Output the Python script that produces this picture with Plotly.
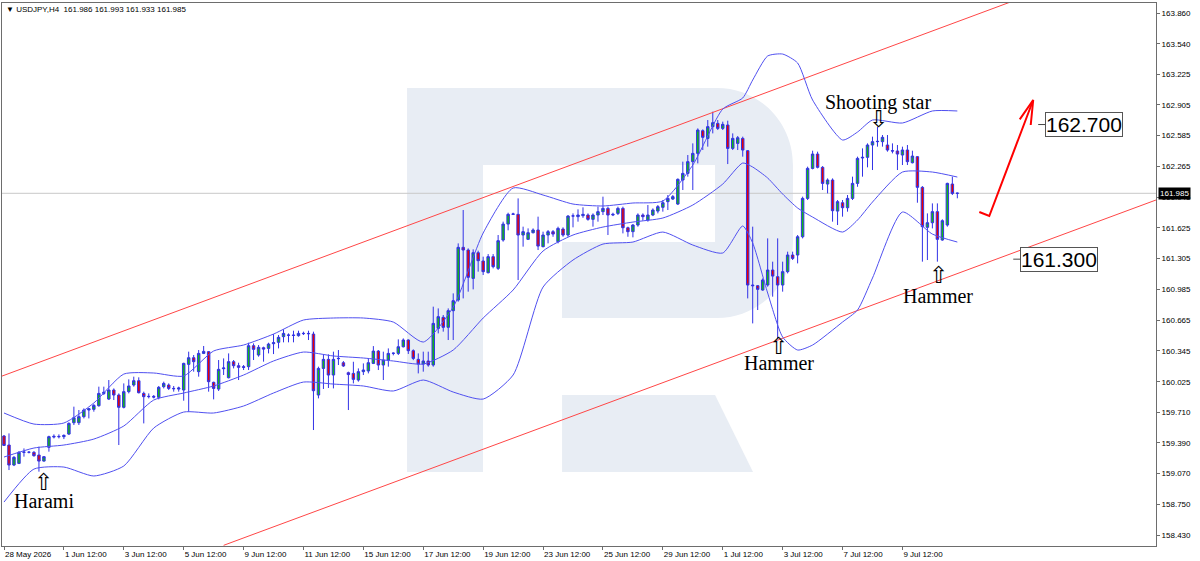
import plotly.graph_objects as go

# USDJPY H4 candles (bar index = position on the time axis)
opens = [
    159.461, 159.367, 159.159, 159.176, 159.291, 159.292, 159.291, 159.263, 159.200, 159.343,
    159.450, 159.457, 159.454, 159.481, 159.599, 159.599, 159.662, 159.731, 159.738, 159.776,
    159.904, 159.845, 159.939, 159.887, 159.759, 159.922, 159.991, 160.036, 159.904, 159.870,
    159.873, 159.863, 159.974, 159.991, 159.956, 159.949, 159.939, 160.206, 160.275, 160.130,
    160.320, 160.338, 160.019, 159.949, 160.161, 160.067, 160.234, 160.192, 160.182, 160.182,
    160.400, 160.303, 160.379, 160.372, 160.421, 160.435, 160.494, 160.511, 160.511, 160.504,
    160.525, 160.528, 160.521, 159.887, 160.164, 160.258, 160.095, 160.265, 160.223, 160.119,
    160.112, 160.043, 160.130, 160.137, 160.216, 160.344, 160.199, 160.251, 160.320, 160.320,
    160.389, 160.459, 160.348, 160.258, 160.209, 160.241, 160.199, 160.580, 160.695, 160.591,
    160.764, 160.875, 161.423, 161.395, 161.100, 161.367, 161.281, 161.159, 161.326, 161.204,
    161.499, 161.665, 161.766, 161.766, 161.551, 161.506, 161.575, 161.603, 161.430, 161.551,
    161.586, 161.482, 161.613, 161.551, 161.748, 161.742, 161.752, 161.759, 161.714, 161.759,
    161.794, 161.828, 161.759, 161.776, 161.828, 161.627, 161.586, 161.655, 161.759, 161.707,
    161.759, 161.800, 161.839, 161.898, 161.925, 161.873, 162.123, 162.192, 162.314, 162.400,
    162.636, 162.556, 162.678, 162.712, 162.660, 162.695, 162.452, 162.504, 162.556, 162.428,
    161.031, 161.024, 160.979, 161.031, 161.187, 161.118, 161.031, 161.170, 161.343, 161.343,
    161.533, 161.932, 162.244, 162.393, 162.255, 162.081, 162.123, 161.800, 161.887, 161.835,
    161.932, 162.088, 162.352, 162.359, 162.487, 162.522, 162.522, 162.487, 162.428, 162.425,
    162.383, 162.435, 162.303, 162.366, 162.047, 161.631, 161.679, 161.794, 161.499, 161.655,
    162.081, 161.986,
]
highs = [
    159.471, 159.488, 159.252, 159.304, 159.332, 159.304, 159.304, 159.350, 159.252, 159.464,
    159.478, 159.478, 159.478, 159.603, 159.766, 159.731, 159.748, 159.748, 159.793, 159.974,
    159.974, 160.043, 159.956, 159.904, 160.008, 160.050, 160.078, 160.071, 159.922, 159.904,
    159.887, 159.981, 160.026, 160.008, 159.981, 159.974, 160.223, 160.338, 160.303, 160.355,
    160.397, 160.345, 160.026, 160.251, 160.268, 160.320, 160.251, 160.223, 160.199, 160.431,
    160.424, 160.407, 160.390, 160.431, 160.521, 160.511, 160.570, 160.528, 160.556, 160.556,
    160.546, 160.556, 160.546, 160.182, 160.310, 160.310, 160.338, 160.355, 160.240, 160.130,
    160.233, 160.164, 160.216, 160.268, 160.396, 160.355, 160.338, 160.372, 160.330, 160.466,
    160.476, 160.466, 160.362, 160.320, 160.338, 160.338, 160.806, 160.788, 160.719, 160.788,
    160.944, 161.464, 161.811, 161.412, 161.402, 161.388, 161.326, 161.353, 161.353, 161.551,
    161.690, 161.783, 161.783, 161.932, 161.638, 161.620, 161.620, 161.742, 161.586, 161.603,
    161.603, 161.638, 161.631, 161.759, 161.776, 161.818, 161.839, 161.776, 161.776, 161.846,
    161.950, 161.846, 161.783, 161.846, 161.846, 161.638, 161.665, 161.776, 161.776, 161.863,
    161.828, 161.863, 161.915, 161.967, 161.967, 162.140, 162.314, 162.383, 162.504, 162.660,
    162.650, 162.747, 162.834, 162.747, 162.730, 162.740, 162.608, 162.581, 162.574, 162.435,
    161.638, 161.031, 161.100, 161.516, 161.274, 161.516, 161.274, 161.378, 161.378, 161.551,
    161.950, 162.262, 162.428, 162.418, 162.268, 162.140, 162.140, 161.915, 161.915, 161.967,
    162.158, 162.366, 162.452, 162.504, 162.574, 162.678, 162.591, 162.591, 162.504, 162.487,
    162.470, 162.487, 162.428, 162.372, 162.060, 161.776, 161.880, 161.880, 161.714, 162.095,
    162.158, 161.993,
]
lows = [
    159.357, 159.107, 159.148, 159.169, 159.246, 159.280, 159.246, 159.090, 159.194, 159.298,
    159.436, 159.436, 159.429, 159.471, 159.575, 159.575, 159.644, 159.644, 159.714, 159.766,
    159.887, 159.835, 159.835, 159.367, 159.748, 159.904, 159.974, 159.904, 159.592, 159.852,
    159.852, 159.842, 159.956, 159.939, 159.922, 159.922, 159.828, 159.714, 160.130, 160.078,
    160.313, 159.922, 159.842, 159.929, 160.095, 160.060, 160.164, 160.043, 160.147, 160.147,
    160.251, 160.286, 160.234, 160.320, 160.313, 160.372, 160.435, 160.435, 160.435, 160.494,
    160.511, 160.459, 159.523, 159.852, 159.950, 159.960, 159.956, 160.199, 160.180, 159.731,
    160.008, 160.026, 160.095, 160.112, 160.209, 160.147, 160.043, 160.182, 160.300, 160.303,
    160.382, 160.314, 160.250, 160.112, 160.130, 160.182, 160.182, 160.528, 160.546, 160.459,
    160.459, 160.858, 160.892, 160.962, 160.986, 161.170, 161.135, 161.152, 161.204, 161.187,
    161.482, 161.600, 161.759, 161.083, 161.430, 161.499, 161.568, 161.395, 161.423, 161.464,
    161.533, 161.464, 161.533, 161.533, 161.631, 161.690, 161.730, 161.700, 161.638, 161.690,
    161.759, 161.551, 161.748, 161.759, 161.568, 161.533, 161.527, 161.638, 161.700, 161.690,
    161.748, 161.776, 161.794, 161.811, 161.915, 161.863, 162.019, 162.158, 162.019, 162.296,
    162.435, 162.470, 162.608, 162.643, 162.643, 162.289, 162.435, 162.435, 162.366, 160.892,
    160.632, 160.771, 160.972, 161.014, 160.910, 160.476, 160.962, 161.152, 161.291, 161.256,
    161.516, 161.915, 162.234, 162.244, 162.019, 161.984, 161.690, 161.655, 161.742, 161.794,
    161.915, 162.053, 162.158, 162.255, 162.227, 162.470, 162.470, 162.418, 162.400, 162.227,
    162.279, 162.279, 162.296, 161.887, 161.274, 161.291, 161.620, 161.274, 161.492, 161.638,
    161.967, 161.933,
]
closes = [
    159.363, 159.159, 159.239, 159.291, 159.294, 159.292, 159.256, 159.200, 159.246, 159.454,
    159.457, 159.454, 159.467, 159.592, 159.651, 159.662, 159.731, 159.745, 159.779, 159.904,
    159.915, 159.939, 159.887, 159.759, 159.922, 159.981, 160.036, 159.911, 159.870, 159.873,
    159.866, 159.967, 160.008, 159.956, 159.953, 159.960, 160.216, 160.275, 160.234, 160.320,
    160.341, 160.026, 159.956, 160.154, 160.168, 160.234, 160.192, 160.175, 160.175, 160.400,
    160.362, 160.383, 160.365, 160.417, 160.431, 160.487, 160.528, 160.509, 160.507, 160.528,
    160.528, 160.525, 159.932, 160.164, 160.258, 160.095, 160.258, 160.268, 160.189, 160.100,
    160.050, 160.130, 160.147, 160.223, 160.344, 160.199, 160.251, 160.320, 160.322, 160.389,
    160.459, 160.348, 160.268, 160.209, 160.241, 160.199, 160.632, 160.702, 160.591, 160.764,
    160.868, 161.423, 161.395, 161.111, 161.367, 161.284, 161.170, 161.326, 161.222, 161.492,
    161.665, 161.766, 161.770, 161.551, 161.586, 161.575, 161.603, 161.436, 161.551, 161.586,
    161.561, 161.620, 161.551, 161.748, 161.750, 161.759, 161.766, 161.714, 161.759, 161.794,
    161.828, 161.759, 161.766, 161.828, 161.627, 161.586, 161.655, 161.759, 161.742, 161.759,
    161.811, 161.846, 161.887, 161.932, 161.950, 162.130, 162.192, 162.314, 162.400, 162.643,
    162.567, 162.678, 162.719, 162.660, 162.702, 162.452, 162.556, 162.563, 162.435, 161.031,
    161.024, 160.986, 161.083, 161.187, 161.124, 161.031, 161.170, 161.343, 161.308, 161.533,
    161.932, 162.244, 162.393, 162.255, 162.088, 162.123, 161.804, 161.898, 161.835, 161.932,
    162.088, 162.348, 162.359, 162.487, 162.522, 162.525, 162.567, 162.435, 162.425, 162.393,
    162.435, 162.314, 162.372, 162.047, 161.638, 161.679, 161.794, 161.506, 161.700, 162.088,
    161.984, 161.985,
]

# Bollinger Bands (20), sampled along the chart
band_bars = [0, 6, 12, 18, 24, 30, 36, 42, 48, 54, 60, 66, 72, 78, 84, 90, 96, 102, 108, 114,
             120, 126, 132, 138, 144, 148, 150, 153, 156, 159, 162, 168, 171, 174, 180, 186, 191]
band_upper = [159.700, 159.585, 159.596, 159.804, 160.105, 160.116, 160.085, 160.345, 160.407, 160.521,
              160.667, 160.688, 160.688, 160.646, 160.438, 160.802, 161.572, 162.040, 161.967, 161.873,
              161.853, 161.884, 161.905, 162.279, 162.861, 162.976, 163.163, 163.413, 163.433, 163.340,
              162.955, 162.539, 162.622, 162.747, 162.716, 162.841, 162.841]
band_middle = [159.242, 159.336, 159.367, 159.429, 159.565, 159.835, 159.908, 159.981, 160.095, 160.241,
               160.334, 160.293, 160.272, 160.241, 160.209, 160.355, 160.688, 160.979, 161.385, 161.551,
               161.634, 161.686, 161.728, 161.863, 162.081, 162.300, 162.258, 162.144, 161.977, 161.832,
               161.738, 161.582, 161.707, 161.894, 162.206, 162.206, 162.154]
band_lower = [158.774, 159.117, 159.138, 159.045, 159.149, 159.544, 159.710, 159.700, 159.773, 159.908,
              160.022, 160.001, 159.981, 159.929, 160.043, 159.918, 159.845, 160.095, 161.010, 161.291,
              161.457, 161.478, 161.582, 161.447, 161.364, 161.645, 161.468, 160.948, 160.490, 160.355,
              160.407, 160.646, 160.771, 161.104, 161.790, 161.561, 161.478]

# time axis labels (every 12 bars)
tick_bars = [0, 12, 24, 36, 48, 60, 72, 84, 96, 108, 120, 132, 144, 156, 168, 180]
tick_labels = ["28 May 2026", "1 Jun 12:00", "3 Jun 12:00", "5 Jun 12:00", "9 Jun 12:00",
               "11 Jun 12:00", "15 Jun 12:00", "17 Jun 12:00", "19 Jun 12:00", "23 Jun 12:00",
               "25 Jun 12:00", "29 Jun 12:00", "1 Jul 12:00", "3 Jul 12:00", "7 Jul 12:00",
               "9 Jul 12:00"]
price_ticks = [163.860, 163.540, 163.225, 162.905, 162.585, 162.265, 161.945, 161.625, 161.305,
               160.985, 160.665, 160.345, 160.025, 159.710, 159.390, 159.070, 158.750, 158.430]

last_price = 161.985
header = "▼ USDJPY,H4  161.986 161.993 161.933 161.985"

# channel trendlines (two anchor points each)
chan_up_x, chan_up_y = [-0.4, 205], [160.084, 164.039]
chan_dn_x, chan_dn_y = [44, 231], [158.324, 161.919]

# forecast arrow and target levels
arrow_x = [195.4, 197.4, 206.2, None, 203.5, 206.2, 205.7]
arrow_y = [161.790, 161.749, 162.955, None, 162.754, 162.955, 162.695]
targets = [162.700, 161.300]
target_bars = [208.6, 203.6]

# candle patterns: (label, bar, text price, arrow price, arrow glyph)
patterns = [
    ("Harami", 8.0, 158.785, 158.985, "⇧"),
    ("Hammer", 155.2, 160.22, 160.395, "⇧"),
    ("Hammer", 187.2, 160.92, 161.14, "⇧"),
    ("Shooting star", 175.2, 162.934, 162.755, "⇩"),
]

bars = list(range(len(opens)))
x_range = [-0.4, 230.8]
y_range = [158.317, 163.964]

fig = go.Figure()

fig.add_trace(go.Scatter(x=chan_up_x, y=chan_up_y, mode="lines",
                         line=dict(color="rgb(255,70,70)", width=1), hoverinfo="skip"))
fig.add_trace(go.Scatter(x=chan_dn_x, y=chan_dn_y, mode="lines",
                         line=dict(color="rgb(255,70,70)", width=1), hoverinfo="skip"))

for band in (band_upper, band_middle, band_lower):
    fig.add_trace(go.Scatter(x=band_bars, y=band, mode="lines",
                             line=dict(color="rgb(80,80,240)", width=1, shape="spline", smoothing=0.6),
                             hoverinfo="skip"))

fig.add_trace(go.Candlestick(
    x=bars, open=opens, high=highs, low=lows, close=closes,
    increasing=dict(line=dict(color="rgb(50,50,230)", width=1), fillcolor="rgb(20,185,20)"),
    decreasing=dict(line=dict(color="rgb(50,50,230)", width=1), fillcolor="rgb(235,0,0)"),
    whiskerwidth=0, hoverinfo="skip",
))

fig.add_trace(go.Scatter(x=arrow_x, y=arrow_y, mode="lines",
                         line=dict(color="rgb(255,0,0)", width=2), hoverinfo="skip"))

for lvl, b in zip(targets, target_bars):
    fig.add_trace(go.Scatter(x=[b - 1.4, b], y=[lvl, lvl], mode="lines",
                             line=dict(color="#444", width=1), hoverinfo="skip"))
    fig.add_annotation(x=b, y=lvl, xref="x", yref="y", text=f"{lvl:.3f}", showarrow=False,
                       xanchor="left", yanchor="middle",
                       font=dict(family="Liberation Sans", size=21, color="black"),
                       bgcolor="white", bordercolor="#555", borderwidth=1, borderpad=0)

for name, b, ty, ay, glyph in patterns:
    fig.add_annotation(x=b, y=ty, text=name, showarrow=False,
                       font=dict(family="Liberation Serif", size=20, color="black"))
    fig.add_annotation(x=b, y=ay, text=glyph, showarrow=False,
                       font=dict(family="DejaVu Sans", size=23, color="black"))

# header line and current price tag
fig.add_annotation(x=0.002, y=1.0, xref="paper", yref="paper", text=header, showarrow=False,
                   xanchor="left", yanchor="top",
                   font=dict(family="Liberation Sans", size=8, color="black"))
fig.add_annotation(x=1.0, y=last_price, xref="paper", yref="y", text=f"{last_price:.3f}",
                   showarrow=False, xanchor="left", yanchor="middle", xshift=2,
                   font=dict(family="Liberation Sans", size=8, color="white"),
                   bgcolor="black", borderpad=1)


# watermark logo, drawn in screen (paper) space
def px(x, y):
    return f"{(x - 2) / 1154:.4f},{(546 - y) / 543:.4f}"


wm = "rgb(232,237,244)"
bowl = (f"M{px(483, 88)} L{px(717, 88)} C{px(759, 88)} {px(793, 122)} {px(793, 165)} "
        f"L{px(793, 242)} C{px(793, 284)} {px(759, 318)} {px(717, 318)} L{px(562, 318)} "
        f"L{px(562, 242)} L{px(715, 242)} L{px(715, 165)} L{px(483, 165)} Z")
leg = f"M{px(562, 395)} L{px(715, 395)} L{px(753, 472)} L{px(562, 472)} Z"
stem = f"M{px(407, 88)} L{px(483, 88)} L{px(483, 472)} L{px(407, 472)} Z"
for path in (stem, bowl, leg):
    fig.add_shape(type="path", path=path, xref="paper", yref="paper",
                  fillcolor=wm, line=dict(width=0), layer="below")

fig.add_shape(type="line", xref="paper", yref="y", x0=0, x1=1, y0=last_price, y1=last_price,
              line=dict(color="rgb(200,200,200)", width=1), layer="below")

fig.update_layout(
    width=1200, height=561,
    margin=dict(l=2, r=44, t=3, b=15),
    plot_bgcolor="white", paper_bgcolor="white",
    showlegend=False,
    font=dict(family="Liberation Sans", size=8, color="black"),
)
fig.update_xaxes(
    range=x_range, tickvals=tick_bars, ticktext=tick_labels,
    ticklabelposition="outside right", tickangle=0, automargin=False,
    showgrid=False, zeroline=False, rangeslider=dict(visible=False),
    showline=True, mirror=True, linecolor="#6d6d6d", linewidth=1,
    ticks="outside", ticklen=3, tickcolor="#6d6d6d",
)
fig.update_yaxes(
    range=y_range, side="right", automargin=False,
    tickvals=price_ticks, ticktext=[f"{v:.3f}" for v in price_ticks],
    showgrid=False, zeroline=False,
    showline=True, mirror=True, linecolor="#6d6d6d", linewidth=1,
    ticks="outside", ticklen=3, tickcolor="#6d6d6d",
)

fig.write_html("out.html", config={"displayModeBar": False},
               post_script="document.body.style.margin = '0';")
